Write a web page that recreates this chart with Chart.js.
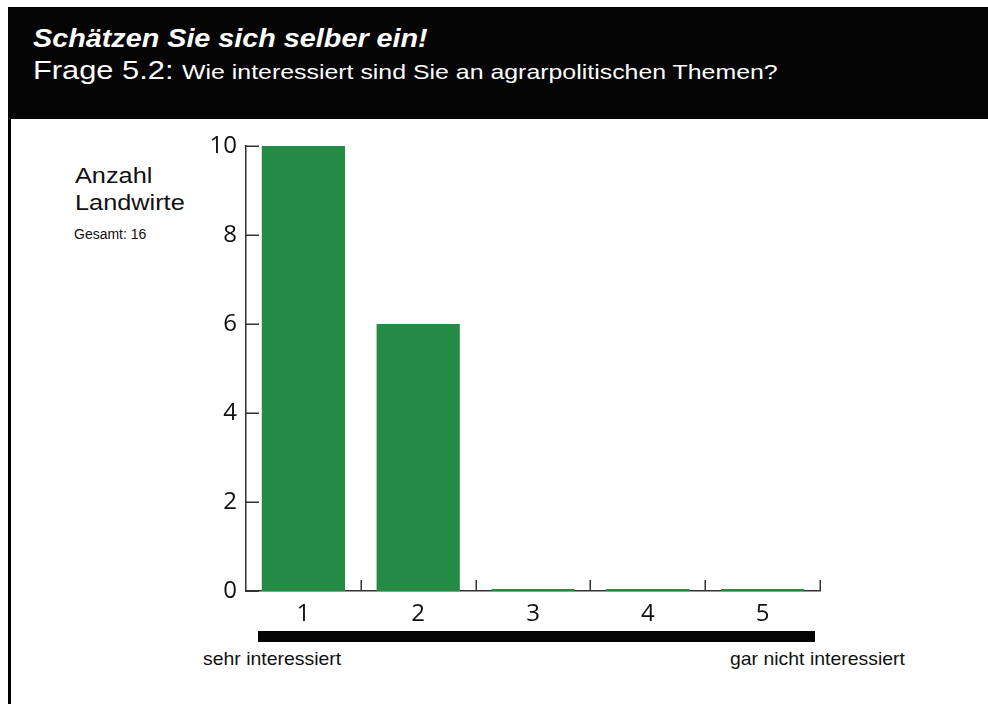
<!DOCTYPE html>
<html><head><meta charset="utf-8">
<script src="https://cdn.jsdelivr.net/npm/chart.js@4/dist/chart.umd.min.js"></script>
<style>
html,body{margin:0;padding:0;background:#fff;}
#wrap{position:relative;width:988px;height:704px;overflow:hidden;background:#fff;font-family:"Liberation Sans",Arial,sans-serif;}
#head{position:absolute;left:8px;top:7px;width:980px;height:112px;background:#050505;}
#lborder{position:absolute;left:8px;top:119px;width:3px;height:585px;background:#000;}
#scalebar{position:absolute;left:258px;top:631px;width:557px;height:11px;background:#050505;}
.t{position:absolute;white-space:nowrap;transform-origin:0 0;line-height:1;}
#c{position:absolute;left:0;top:0;}
</style></head>
<body>
<div id="wrap">
  <div id="head"></div>
  <div id="lborder"></div>
  <div class="t" id="title" style="left:33px;top:26px;font-size:25px;font-weight:bold;font-style:italic;color:#fff;transform:scaleX(1.15);">Schätzen Sie sich selber ein!</div>
  <div class="t" id="sub" style="left:33px;top:57px;font-size:26px;color:#fff;transform:scaleX(1.185);">Frage 5.2: <span style="font-size:21px;">Wie interessiert sind Sie an agrarpolitischen Themen?</span></div>
  <div class="t" style="left:75px;top:165.4px;font-size:22px;color:#111;transform:scaleX(1.15);">Anzahl</div>
  <div class="t" style="left:75px;top:192.4px;font-size:22px;color:#111;transform:scaleX(1.15);">Landwirte</div>
  <div class="t" style="left:74px;top:227px;font-size:14px;color:#111;">Gesamt: 16</div>
  <div id="scalebar"></div>
  <div class="t" style="left:203px;top:650.3px;font-size:18.5px;color:#111;transform:scaleX(1.05);">sehr interessiert</div>
  <div class="t" style="left:730px;top:650.3px;font-size:18.5px;color:#111;transform:scaleX(1.05);">gar nicht interessiert</div>
  <canvas id="c" width="988" height="704"></canvas>
</div>
<script>
// ---- data ----
const categories = ['1', '2', '3', '4', '5'];
const counts = [10, 6, 0, 0, 0];
const yTickValues = [0, 2, 4, 6, 8, 10];

const axisColor = '#333333';
const barColor = '#248b45';

const tickMarks = {
  id: 'tickMarks',
  afterDatasetsDraw(chart) {
    const xs = chart.scales.x, ys = chart.scales.y, ctx = chart.ctx;
    ctx.save();
    ctx.strokeStyle = axisColor;
    ctx.lineWidth = 1.5;
    ctx.beginPath();
    ys.ticks.forEach(t => {
      const py = Math.round(ys.getPixelForValue(t.value)) + 0.25;
      ctx.moveTo(xs.left, py);
      ctx.lineTo(xs.left + 13, py);
    });
    const half = (xs.getPixelForValue(1) - xs.getPixelForValue(0)) / 2;
    for (let i = 0; i < categories.length; i++) {
      const px = Math.round(xs.getPixelForValue(i) + half) + 0.25;
      ctx.moveTo(px, ys.bottom);
      ctx.lineTo(px, ys.bottom - 11);
    }
    ctx.stroke();
    ctx.restore();
  }
};

new Chart(document.getElementById('c'), {
  type: 'bar',
  data: {
    labels: categories,
    datasets: [{
      data: counts,
      backgroundColor: barColor,
      borderWidth: 0,
      minBarLength: 2,
      categoryPercentage: 0.725,
      barPercentage: 1
    }]
  },
  options: {
    responsive: false,
    devicePixelRatio: 1,
    animation: false,
    events: [],
    layout: { padding: { left: 186, right: 168, top: 146, bottom: 73 } },
    plugins: { legend: { display: false }, tooltip: { enabled: false }, title: { display: false } },
    scales: {
      x: {
        type: 'category',
        grid: { display: false, drawTicks: false },
        border: { display: true, color: axisColor, width: 1.5 },
        ticks: { color: '#111111', padding: 9, font: { family: '"Open Sans", sans-serif', size: 24 } },
        afterFit: s => { s.height = 40; }
      },
      y: {
        min: 0, max: 10,
        afterBuildTicks: s => { s.ticks = yTickValues.map(v => ({ value: v })); },
        grid: { display: false, drawTicks: false },
        border: { display: true, color: axisColor, width: 1.5 },
        ticks: { color: '#111111', padding: 9, font: { family: '"Open Sans", sans-serif', size: 24 } },
        afterFit: s => { s.width = 60; }
      }
    }
  },
  plugins: [tickMarks]
});
</script>
</body></html>
